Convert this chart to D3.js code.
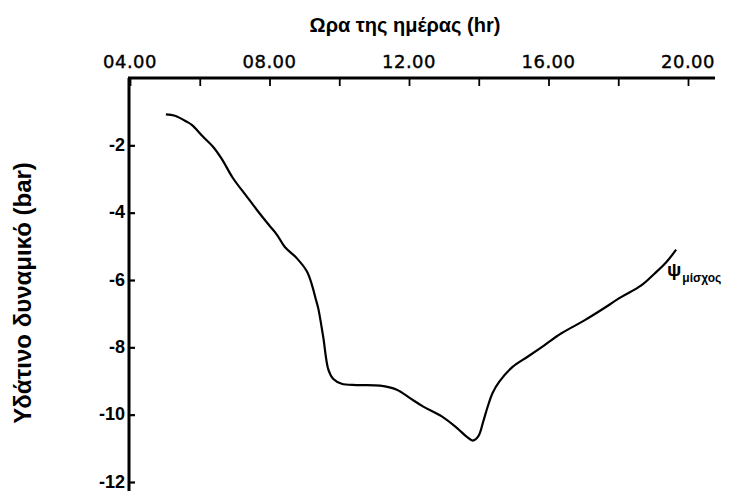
<!DOCTYPE html>
<html><head><meta charset="utf-8">
<script src="https://cdn.jsdelivr.net/npm/d3@7"></script>
<style>body{margin:0;background:#fff}svg{display:block}</style>
</head><body>
<svg id="c" width="732" height="492"></svg>
<script>
const hours = [5.03,5.29,5.63,5.78,6.09,6.38,6.63,6.95,7.34,7.73,8.01,8.21,8.44,8.78,9.07,9.21,9.33,9.40,9.54,9.69,9.83,10.07,10.50,11.17,11.65,12.03,12.41,12.94,13.37,13.66,13.83,13.99,14.13,14.26,14.40,14.59,14.97,15.40,15.88,16.36,17.03,17.50,18.08,18.65,19.03,19.37,19.66];
const psi = [-1.08,-1.12,-1.30,-1.40,-1.74,-2.04,-2.40,-2.97,-3.51,-4.04,-4.40,-4.65,-5.02,-5.35,-5.74,-6.12,-6.58,-6.85,-7.69,-8.67,-8.94,-9.08,-9.12,-9.14,-9.26,-9.51,-9.76,-10.05,-10.39,-10.66,-10.77,-10.64,-10.20,-9.75,-9.35,-9.02,-8.58,-8.28,-7.94,-7.59,-7.20,-6.90,-6.51,-6.17,-5.82,-5.48,-5.10];
const xTicks = [4,6,8,10,12,14,16,18,20];
const xTickLabels = ["04.00","","08.00","","12.00","","16.00","","20.00"];
const yTicks = [-2,-4,-6,-8,-10,-12];
const xTitle = "Ωρα της ημέρας (hr)";
const yTitle = "Υδάτινο δυναμικό (bar)";
const seriesLabel = "ψ", seriesSub = "μίσχος";

const svg = d3.select("#c");
const x = d3.scaleLinear().domain([4,20]).range([130,688]);
const y = d3.scaleLinear().domain([0,-12]).range([78,482]);

// top axis
const xa = svg.append("g").attr("transform",`translate(0,${y(0)})`)
  .call(d3.axisBottom(x).tickValues(xTicks).tickSize(8).tickFormat(""));
xa.select(".domain").remove();
xa.selectAll("line").attr("stroke","#000").attr("stroke-width",1.8);
svg.append("line").attr("x1",x(4)-2).attr("x2",715).attr("y1",y(0)).attr("y2",y(0))
  .attr("stroke","#000").attr("stroke-width",3);
svg.append("g").selectAll("text").data(xTicks).join("text")
  .attr("x",d=>x(d)).attr("y",y(0)-10).attr("text-anchor","middle")
  .attr("font-family","DejaVu Sans").attr("font-size",18).attr("letter-spacing",0.5)
  .attr("stroke","#000").attr("stroke-width",0.4)
  .text((d,i)=>xTickLabels[i]);

// left axis
const ya = svg.append("g").attr("transform",`translate(${x(4)-1},0)`)
  .call(d3.axisRight(y).tickValues(yTicks).tickSize(6).tickFormat(""));
ya.select(".domain").remove();
ya.selectAll("line").attr("stroke","#000").attr("stroke-width",2.2);
svg.append("line").attr("x1",x(4)-1).attr("x2",x(4)-1).attr("y1",y(0)).attr("y2",491)
  .attr("stroke","#000").attr("stroke-width",3);
svg.append("g").selectAll("text").data(yTicks).join("text")
  .attr("x",x(4)-5).attr("y",d=>y(d)+5.5).attr("text-anchor","end")
  .attr("font-family","Liberation Sans").attr("font-weight","bold").attr("font-size",18)
  .text(d=>d);

// titles
svg.append("text").attr("x",405).attr("y",32).attr("text-anchor","middle")
  .attr("font-family","Liberation Sans").attr("font-weight","bold").attr("font-size",20)
  .text(xTitle);
svg.append("text").attr("transform","translate(31,293) rotate(-90)").attr("text-anchor","middle")
  .attr("font-family","Liberation Sans").attr("font-weight","bold").attr("font-size",24)
  .text(yTitle);

// curve
const data = hours.map((h,i)=>[h,psi[i]]);
svg.append("path").datum(data)
  .attr("d", d3.line().x(d=>x(d[0])).y(d=>y(d[1])).curve(d3.curveCatmullRom))
  .attr("fill","none").attr("stroke","#000").attr("stroke-width",2.2);

// series label
const lab = svg.append("text").attr("x",667).attr("y",276)
  .attr("font-family","Liberation Sans").attr("font-weight","bold").attr("font-size",19);
lab.append("tspan").text(seriesLabel);
lab.append("tspan").attr("dy",6).attr("dx",1).attr("font-size",12).text(seriesSub);
</script>
</body></html>
